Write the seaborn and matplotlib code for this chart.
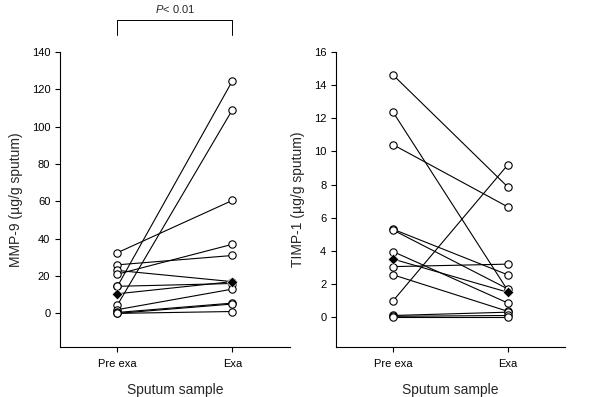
import pandas as pd
import matplotlib
matplotlib.use("Agg")
import matplotlib.pyplot as plt
import seaborn as sns

# Sample categories
samples = ["Pre exa", "Exa"]

# MMP-9 (ug/g sputum), one value per subject
mmp9_pre = [32.5, 26, 23, 21, 14.5, 14.5, 4.5, 2, 0.5, 0, 0]
mmp9_exa = [60.5, 31, 17, 37, 124.5, 16, 109, 13, 5.5, 5, 1]
mmp9_median = [10.5, 17]

# TIMP-1 (ug/g sputum), one value per subject
timp1_pre = [14.6, 12.35, 10.4, 5.3, 5.25, 3.95, 3.05, 2.55, 1.0, 0.1, 0.05, 0.0]
timp1_exa = [7.85, 1.6, 6.65, 2.55, 1.7, 0.85, 3.2, 0.35, 9.2, 0.3, 0.1, 0.0]
timp1_median = [3.5, 1.5]

mmp9_ticks = [0, 20, 40, 60, 80, 100, 120, 140]
timp1_ticks = [0, 2, 4, 6, 8, 10, 12, 14, 16]


def long_table(pre, exa):
    rows = []
    for i, (a, b) in enumerate(zip(pre, exa)):
        rows.append({"subject": i, "sample": samples[0], "value": a})
        rows.append({"subject": i, "sample": samples[1], "value": b})
    return pd.DataFrame(rows)


sns.set_style("ticks")
plt.rcParams["font.family"] = ["Liberation Sans", "DejaVu Sans"]
plt.rcParams["mathtext.fontset"] = "custom"
plt.rcParams["mathtext.it"] = "Liberation Sans:italic"
plt.rcParams["mathtext.rm"] = "Liberation Sans"

fig = plt.figure(figsize=(6.0, 3.97), dpi=100)
ax1 = fig.add_axes([0.1, 0.126, 0.383, 0.743])
ax2 = fig.add_axes([0.56, 0.126, 0.382, 0.743])


def draw_panel(ax, pre, exa, med, ticks, ylim, ylabel):
    df = long_table(pre, exa)
    sns.lineplot(data=df, x="sample", y="value", units="subject", estimator=None,
                 color="black", linewidth=0.8, ax=ax, legend=False, zorder=2)
    sns.scatterplot(data=df, x="sample", y="value", color="white", edgecolor="black",
                    linewidth=0.8, s=28, ax=ax, legend=False, zorder=3)
    mdf = pd.DataFrame({"sample": samples, "value": med})
    sns.lineplot(data=mdf, x="sample", y="value", estimator=None, color="black",
                 linewidth=0.8, ax=ax, legend=False, zorder=4)
    sns.scatterplot(data=mdf, x="sample", y="value", color="black", marker="D",
                    s=30, ax=ax, legend=False, zorder=5)
    ax.set_xlim(-0.5, 1.5)
    ax.set_ylim(*ylim)
    ax.set_yticks(ticks)
    ax.set_xlabel("Sputum sample", fontsize=10, labelpad=10)
    ax.set_ylabel(ylabel, fontsize=10, labelpad=6)
    ax.tick_params(labelsize=8, length=3.5, width=0.8, colors="black")
    ax.tick_params(axis="x", pad=5)
    for s in ["left", "bottom"]:
        ax.spines[s].set_linewidth(0.8)
        ax.spines[s].set_color("black")
    ax.spines["left"].set_bounds(ylim[0], ticks[-1])
    sns.despine(ax=ax)


draw_panel(ax1, mmp9_pre, mmp9_exa, mmp9_median, mmp9_ticks, (-18, 140),
           "MMP-9 (\u00b5g/g sputum)")
draw_panel(ax2, timp1_pre, timp1_exa, timp1_median, timp1_ticks, (-1.8, 16),
           "TIMP-1 (\u00b5g/g sputum)")

# significance bracket above the MMP-9 panel
ax1.plot([0, 0, 1, 1], [149, 157, 157, 149], color="black", linewidth=0.7,
         clip_on=False)
ax1.text(0.5, 163, r"$\mathit{P}$< 0.01", ha="center", va="center", fontsize=8)

fig.savefig("out.png", dpi=100)
